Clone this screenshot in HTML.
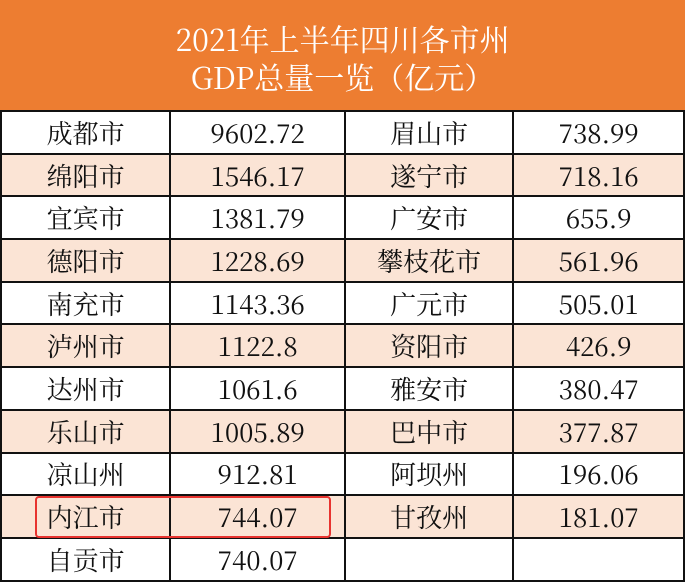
<!DOCTYPE html>
<html><head><meta charset="utf-8"><style>
body{margin:0;width:685px;height:581px;background:#fff;overflow:hidden;position:relative;font-family:"Liberation Serif","Noto Serif CJK SC",serif;}
.hd{position:absolute;left:0;top:0;width:685px;height:110px;background:#ed7d31;color:#fff;text-align:center;font-size:30px;line-height:38px;padding-top:19px;box-sizing:border-box;font-family:"Noto Serif CJK SC",serif;}
table{position:absolute;left:0;top:110px;border-collapse:collapse;}
td{border:2px solid #111;height:40.7px;padding:0;text-align:center;font-size:26px;color:#111;font-family:"Noto Serif CJK SC",serif;}
tr.p td{background:#fbe4d5;}
.box{position:absolute;left:35px;top:496px;width:292px;height:38px;border:2.5px solid #e8332f;border-radius:4px;}
</style></head><body>
<div class="hd">2021年上半年四川各市州<br>GDP总量一览（亿元）</div>
<table>
<colgroup><col style="width:170px"><col style="width:175px"><col style="width:169px"><col style="width:171px"></colgroup>
<tr><td>成都市</td><td>9602.72</td><td>眉山市</td><td>738.99</td></tr>
<tr class="p"><td>绵阳市</td><td>1546.17</td><td>遂宁市</td><td>718.16</td></tr>
<tr><td>宜宾市</td><td>1381.79</td><td>广安市</td><td>655.9</td></tr>
<tr class="p"><td>德阳市</td><td>1228.69</td><td>攀枝花市</td><td>561.96</td></tr>
<tr><td>南充市</td><td>1143.36</td><td>广元市</td><td>505.01</td></tr>
<tr class="p"><td>泸州市</td><td>1122.8</td><td>资阳市</td><td>426.9</td></tr>
<tr><td>达州市</td><td>1061.6</td><td>雅安市</td><td>380.47</td></tr>
<tr class="p"><td>乐山市</td><td>1005.89</td><td>巴中市</td><td>377.87</td></tr>
<tr><td>凉山州</td><td>912.81</td><td>阿坝州</td><td>196.06</td></tr>
<tr class="p"><td>内江市</td><td>744.07</td><td>甘孜州</td><td>181.07</td></tr>
<tr><td>自贡市</td><td>740.07</td><td></td><td></td></tr>
</table>
<div class="box"></div>
</body></html>
